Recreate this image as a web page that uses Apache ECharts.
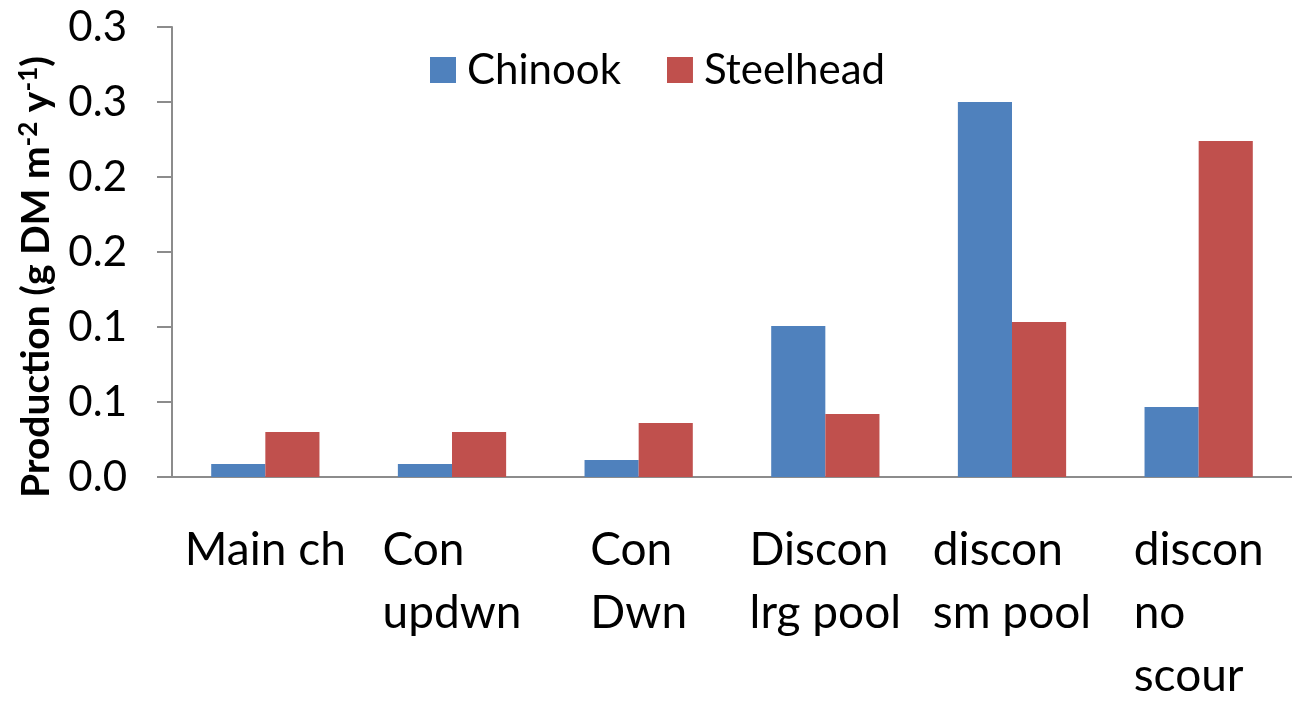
<!DOCTYPE html>
<html>
<head>
<meta charset="utf-8">
<script src="https://cdn.jsdelivr.net/npm/echarts@6/dist/echarts.min.js"></script>
<style>
  html, body { margin: 0; padding: 0; background: #fff; }
  #main { width: 1292px; height: 704px; }
</style>
</head>
<body>
<div id="main"></div>
<script>
// data
const categories = ['Main ch', 'Con\nupdwn', 'Con\nDwn', 'Discon\nlrg pool', 'discon\nsm pool', 'discon\nno\nscour'];
const chinook = [0.0087, 0.0087, 0.0113, 0.1007, 0.2500, 0.0467];
const steelhead = [0.0300, 0.0300, 0.0360, 0.0420, 0.1033, 0.2240];
const yTickLabels = ['0.0', '0.1', '0.1', '0.2', '0.2', '0.3', '0.3'];

const FONT = 'Lato';
const AXIS_GREY = '#8c8c8c';

const myChart = echarts.init(document.getElementById('main'));

const option = {
  animation: false,
  textStyle: { fontFamily: FONT },
  color: ['#4F81BD', '#C0504D'],
  grid: { left: 172, top: 27, width: 1127, height: 450 },
  legend: {
    left: 425, top: 44,
    itemWidth: 26, itemHeight: 26, itemGap: 46,
    icon: 'rect',
    textStyle: { fontSize: 42, color: '#000', fontFamily: FONT, padding: [0, 0, 0, 6] },
    data: ['Chinook', 'Steelhead']
  },
  xAxis: {
    type: 'category',
    data: categories,
    axisLine: { lineStyle: { color: AXIS_GREY, width: 2 } },
    axisTick: { length: 20, lineStyle: { color: AXIS_GREY, width: 2 } },
    axisLabel: {
      interval: 0,
      margin: 42,
      color: '#000',
      formatter: v => v.split('\n').map(s => '{a|' + s + '}').join('\n'),
      rich: { a: { fontSize: 46, lineHeight: 63, align: 'left', fontFamily: FONT, color: '#000' } }
    }
  },
  yAxis: {
    type: 'value',
    min: 0, max: 0.3, interval: 0.05,
    axisLine: { show: true, lineStyle: { color: AXIS_GREY, width: 2 } },
    axisTick: { show: true, length: 15, lineStyle: { color: AXIS_GREY, width: 2 } },
    splitLine: { show: false },
    axisLabel: {
      margin: 45, fontSize: 42, color: '#000', fontFamily: FONT,
      formatter: (v, i) => yTickLabels[i]
    }
  },
  graphic: [{
    type: 'text',
    x: 36, y: 277,
    rotation: Math.PI / 2,
    style: {
      text: '{b|Production (g DM m}{s|-2}{b| y}{s|-1}{b|)}',
      align: 'center', verticalAlign: 'middle',
      rich: {
        b: { fontSize: 39, fontWeight: 'bold', fontFamily: FONT, fill: '#000' },
        s: { fontSize: 26, fontWeight: 'bold', fontFamily: FONT, fill: '#000', verticalAlign: 'top', padding: [0, 0, 15, 0] }
      }
    }
  }],
  series: [
    { name: 'Chinook', type: 'bar', data: chinook, barGap: '0%', barCategoryGap: '42%' },
    { name: 'Steelhead', type: 'bar', data: steelhead, barGap: '0%', barCategoryGap: '42%' }
  ]
};

myChart.setOption(option);
</script>
</body>
</html>
